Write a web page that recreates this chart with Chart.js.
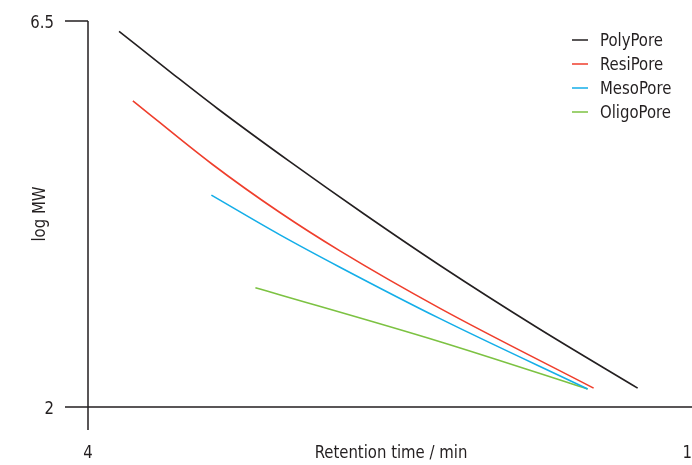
<!DOCTYPE html>
<html lang="en">
<head>
    <meta charset="UTF-8">
    <title>log MW vs retention time</title>
    <script src="https://cdn.jsdelivr.net/npm/chart.js"></script>
    <style>
        body { margin: 0; background: #fff; }
        #wrap { width: 692px; height: 465px; }
    </style>
</head>
<body>
<div id="wrap"><canvas id="calChart" width="692" height="465"></canvas></div>
<script>
    // Calibration curves (retention time in min, log MW)
    const seriesNames = ['PolyPore', 'ResiPore', 'MesoPore', 'OligoPore'];
    const seriesColors = ['#231f20', '#ef3e2c', '#14aee8', '#7cc242'];

    const polyTime = [4.36, 5.0, 5.5, 6.34, 7.2, 8.08, 9.2, 10.37];
    const polyLogMW = [6.38, 5.87, 5.48, 4.86, 4.25, 3.65, 2.93, 2.22];

    const resiTime = [4.52, 5.44, 6.22, 6.92, 8.08, 9.86];
    const resiLogMW = [5.57, 4.83, 4.27, 3.82, 3.15, 2.22];

    const mesoTime = [5.43, 6.22, 6.92, 8.08, 9.79];
    const mesoLogMW = [4.47, 4.01, 3.63, 3.03, 2.21];

    const oligoTime = [5.94, 8.08, 9.79];
    const oligoLogMW = [3.39, 2.76, 2.21];

    const xTicks = [4, 11];
    const yTicks = [2, 6.5];
    const xTitle = 'Retention time / min';
    const yTitle = 'log MW';

    const FONT = '18px "DejaVu Sans Condensed", "DejaVu Sans", sans-serif';
    const SQUEEZE = 0.92; // the original type is a condensed face
    const INK = '#231f20';

    function toPoints(xs, ys) {
        return xs.map((x, i) => ({ x: x, y: ys[i] }));
    }

    const allX = [polyTime, resiTime, mesoTime, oligoTime];
    const allY = [polyLogMW, resiLogMW, mesoLogMW, oligoLogMW];

    const datasets = seriesNames.map((name, i) => ({
        label: name,
        data: toPoints(allX[i], allY[i]),
        borderColor: seriesColors[i],
        backgroundColor: seriesColors[i],
        borderWidth: 1.6,
        showLine: true,
        pointRadius: 0,
        cubicInterpolationMode: 'monotone',
        fill: false
    }));

    function squeezedText(ctx, text, x, y) {
        ctx.save();
        ctx.translate(x, y);
        ctx.scale(SQUEEZE, 1);
        ctx.fillText(text, 0, 0);
        ctx.restore();
    }

    // axes, ticks, titles and legend drawn by hand to match the original look
    const axesPlugin = {
        id: 'axesPlugin',
        afterDraw(chart) {
            const ctx = chart.ctx;
            const xs = chart.scales.x;
            const ys = chart.scales.y;
            const x0 = xs.getPixelForValue(xTicks[0]);
            const yBot = ys.getPixelForValue(yTicks[0]);
            const yTop = ys.getPixelForValue(yTicks[1]);
            const ext = 23;

            ctx.save();
            ctx.strokeStyle = INK;
            ctx.lineWidth = 1.5;
            ctx.beginPath();
            ctx.moveTo(x0, yTop);
            ctx.lineTo(x0, yBot + ext);
            ctx.moveTo(x0 - ext, yTop);
            ctx.lineTo(x0, yTop);
            ctx.moveTo(x0 - ext, yBot);
            ctx.lineTo(chart.width, yBot);
            ctx.stroke();

            ctx.fillStyle = INK;
            ctx.font = FONT;
            ctx.textBaseline = 'middle';

            ctx.textAlign = 'right';
            yTicks.forEach(v => {
                squeezedText(ctx, String(v), x0 - ext - 11, ys.getPixelForValue(v) + 2);
            });

            ctx.textAlign = 'center';
            xTicks.forEach(v => {
                squeezedText(ctx, String(v), xs.getPixelForValue(v), yBot + 46);
            });
            squeezedText(ctx, xTitle, 391, yBot + 46);

            ctx.save();
            ctx.translate(40, 214);
            ctx.rotate(-Math.PI / 2);
            squeezedText(ctx, yTitle, 0, 0);
            ctx.restore();

            // legend
            ctx.textAlign = 'left';
            seriesNames.forEach((name, i) => {
                const y = 40 + i * 24;
                ctx.strokeStyle = seriesColors[i];
                ctx.lineWidth = 1.5;
                ctx.beginPath();
                ctx.moveTo(572, y);
                ctx.lineTo(588, y);
                ctx.stroke();
                ctx.fillStyle = INK;
                squeezedText(ctx, name, 600, y + 1);
            });
            ctx.restore();
        }
    };

    new Chart(document.getElementById('calChart').getContext('2d'), {
        type: 'scatter',
        data: { datasets: datasets },
        options: {
            responsive: false,
            animation: false,
            devicePixelRatio: 1,
            layout: { padding: { left: 88, right: 0, top: 21, bottom: 58 } },
            plugins: {
                legend: { display: false },
                tooltip: { enabled: false }
            },
            scales: {
                x: { type: 'linear', min: 4, max: 11, display: false },
                y: { type: 'linear', min: 2, max: 6.5, display: false }
            }
        },
        plugins: [axesPlugin]
    });
</script>
</body>
</html>
